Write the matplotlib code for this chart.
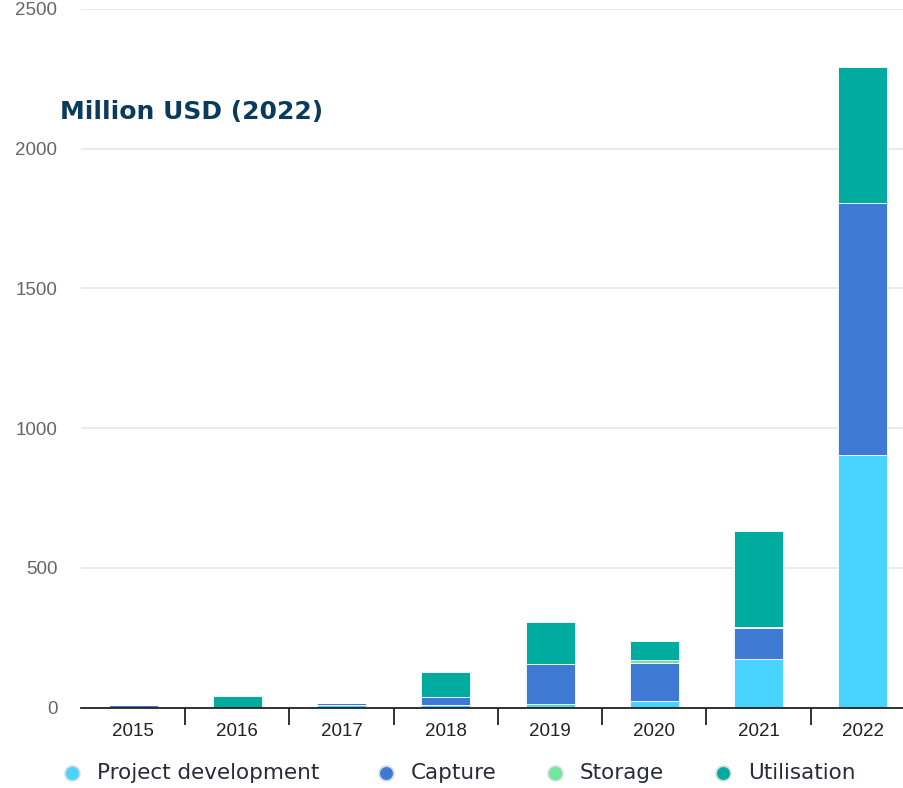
import numpy as np
import matplotlib.pyplot as plt
from matplotlib.lines import Line2D

anos = ["2015", "2016", "2017", "2018", "2019", "2020", "2021", "2022"]
projeto = [0, 0, 8, 8, 13, 25, 173, 904]
captura = [8, 0, 9, 31, 142, 136, 111, 903]
armazenamento = [0, 0, 0, 0, 0, 10, 5, 0]
utilizacao = [0, 41, 0, 88, 152, 68, 343, 486]

series = [
    ("Project development", projeto, "#48d4ff"),
    ("Capture", captura, "#3e79d4"),
    ("Storage", armazenamento, "#6ee89a"),
    ("Utilisation", utilizacao, "#00ab9f"),
]

fig = plt.figure(figsize=(9.04, 7.88), dpi=100)
# o grafico original esta cortado na direita
ax = fig.add_axes([81/904, 0.1019, 823/904, 0.8867])

x = np.arange(len(anos))
base = np.zeros(len(anos))
for nome, vals, cor in series:
    vals = np.array(vals, dtype=float)
    ax.bar(x, vals, width=0.47, bottom=base, color=cor, edgecolor="white",
           linewidth=0.6, zorder=3)
    base += vals

ax.set_ylim(0, 2500)
ax.set_xlim(-0.5, 7.5 - 11/104.4)
ax.set_yticks(np.arange(0, 2501, 500))
ax.yaxis.grid(True, color="#e6e6e6", linewidth=1.2, zorder=0)
ax.tick_params(axis="y", length=0, pad=17, labelsize=13.5, labelcolor="#666666")
for t in ax.get_yticklabels():
    t.set_family("Liberation Sans")

ax.set_xticks(x)
ax.set_xticklabels(anos, family="Liberation Sans")
ax.tick_params(axis="x", length=0, pad=11, labelsize=13.5, labelcolor="#222222")
# marcas entre categorias
ax.set_xticks(np.arange(0.5, 7, 1), minor=True)
ax.tick_params(axis="x", which="minor", length=12, width=1.3, color="#222222")

for lado in ["top", "right", "left"]:
    ax.spines[lado].set_visible(False)
ax.spines["bottom"].set_color("#222222")
ax.spines["bottom"].set_linewidth(1.3)
ax.spines["bottom"].set_zorder(4)

fig.text(60/904, 1 - 112/788, "Million USD (2022)", fontsize=18, fontweight="bold",
         color="#0b3b5c", family="DejaVu Sans", va="center", ha="left")

# legenda montada a mao
pos_marcador = [72, 386, 555, 723]
ly = 1 - 773/788
for (nome, _, cor), px in zip(series, pos_marcador):
    fig.add_artist(Line2D([px/904], [ly], marker="o", linestyle="", markersize=10.5,
                          markerfacecolor=cor, markeredgecolor="#cfd8dc",
                          markeredgewidth=1.2, transform=fig.transFigure))
    fig.text((px + 25)/904, ly, nome, fontsize=15.5, color="#2a2a3a",
             family="DejaVu Sans", va="center", ha="left")

fig.savefig("out.png", dpi=100)
